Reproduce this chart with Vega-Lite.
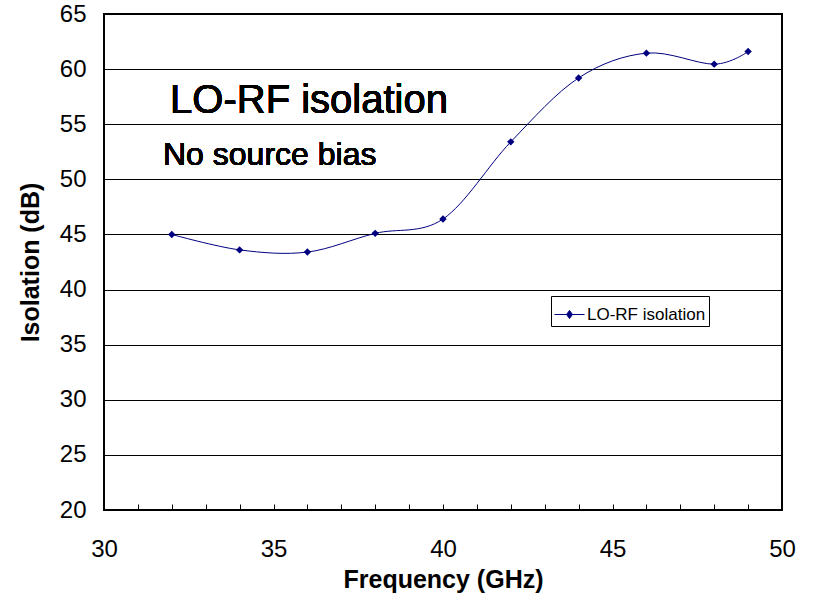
{
  "$schema": "https://vega.github.io/schema/vega-lite/v6.json",
  "width": 678,
  "height": 496,
  "autosize": {"type": "none"},
  "padding": {"left": 104, "top": 14, "right": 32, "bottom": 100},
  "background": "#ffffff",
  "config": {
    "view": {"stroke": "#000000", "strokeWidth": 2},
    "font": "Liberation Sans",
    "axis": {"labelFont": "Liberation Sans", "titleFont": "Liberation Sans", "labelColor": "#000", "titleColor": "#000"}
  },
  "data": {
    "values": [
      {"freq": 32, "iso": 45.0},
      {"freq": 34, "iso": 43.6},
      {"freq": 36, "iso": 43.4},
      {"freq": 38, "iso": 45.1},
      {"freq": 40, "iso": 46.4},
      {"freq": 42, "iso": 53.4},
      {"freq": 44, "iso": 59.2},
      {"freq": 46, "iso": 61.45},
      {"freq": 48, "iso": 60.45},
      {"freq": 49, "iso": 61.6}
    ]
  },
  "encoding": {
    "x": {
      "field": "freq",
      "type": "quantitative",
      "scale": {"domain": [30, 50], "nice": false, "zero": false},
      "axis": {
        "title": "Frequency (GHz)",
        "titleFontSize": 25,
        "titleFontWeight": "bold",
        "titlePadding": 6,
        "values": [30,31,32,33,34,35,36,37,38,39,40,41,42,43,44,45,46,47,48,49,50],
        "labelExpr": "datum.value % 5 === 0 ? datum.label : ''",
        "labelFontSize": 24,
        "labelPadding": 33,
        "labelFlush": false,
        "labelOverlap": false,
        "labelBound": false,
        "tickSize": -6,
        "tickColor": "#000",
        "tickWidth": 1,
        "domain": false,
        "grid": false
      }
    },
    "y": {
      "field": "iso",
      "type": "quantitative",
      "scale": {"domain": [20, 65], "nice": false, "zero": false},
      "axis": {
        "title": "Isolation (dB)",
        "titleFontSize": 25,
        "titleFontWeight": "bold",
        "titlePadding": 16,
        "values": [20,25,30,35,40,45,50,55,60,65],
        "labelFontSize": 24,
        "labelPadding": 18,
        "labelFlush": false,
        "labelOverlap": false,
        "labelBound": false,
        "ticks": false,
        "domain": false,
        "grid": true,
        "gridColor": "#000",
        "gridWidth": 1,
        "gridOpacity": 1
      }
    }
  },
  "layer": [
    {
      "mark": {"type": "line", "interpolate": "cardinal", "tension": 0, "color": "#000080", "strokeWidth": 1}
    },
    {
      "mark": {"type": "point", "shape": "diamond", "filled": true, "size": 55, "opacity": 1},
      "encoding": {
        "color": {
          "datum": "LO-RF isolation",
          "scale": {"range": ["#000080"]},
          "legend": {
            "orient": "none",
            "legendX": 447,
            "legendY": 282,
            "title": null,
            "strokeColor": "#000000",
            "fillColor": "#ffffff",
            "padding": 3,
            "labelFontSize": 17,
            "labelFont": "Liberation Sans",
            "labelColor": "#000",
            "labelOffset": 2,
            "symbolType": "M-1,0L1,0M0,-0.27L0.2,0L0,0.27L-0.2,0Z",
            "symbolSize": 900,
            "symbolStrokeWidth": 1,
            "symbolStrokeColor": "#000080",
            "symbolFillColor": "#000080"
          }
        }
      }
    },
    {
      "mark": {"type": "text", "text": "LO-RF isolation", "align": "left", "baseline": "alphabetic", "fontSize": 40, "font": "Liberation Sans", "fontWeight": "normal", "color": "#000"},
      "encoding": {"x": {"datum": 31.95}, "y": {"datum": 56.0}}
    },
    {
      "mark": {"type": "text", "text": "No source bias", "align": "left", "baseline": "alphabetic", "fontSize": 32, "font": "Liberation Sans", "fontWeight": "normal", "color": "#000"},
      "encoding": {"x": {"datum": 31.74}, "y": {"datum": 51.3}}
    }
  ]
}
